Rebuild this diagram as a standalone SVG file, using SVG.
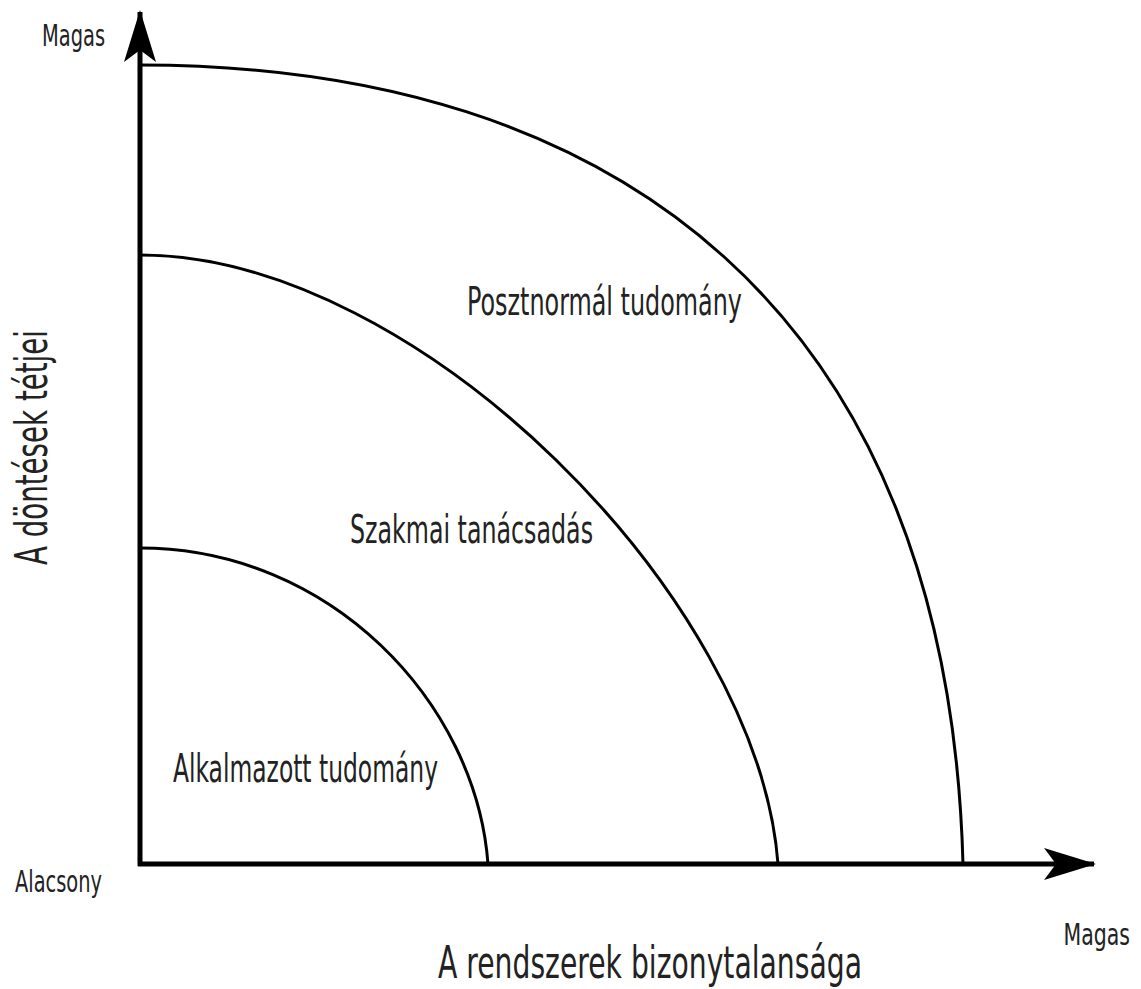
<svg xmlns="http://www.w3.org/2000/svg" width="1141" height="989" viewBox="0 0 1141 989">
<style>
.t{font-family:"DejaVu Sans Condensed","DejaVu Sans",sans-serif;font-stretch:condensed;fill:#222}
.s{font-size:30px}
.m{font-size:39px}
.l{font-size:45px}
.axis{stroke:#000;stroke-width:5;fill:none}
.curve{stroke:#000;stroke-width:3;fill:none}
</style>
<defs>
<marker id="ah" viewBox="0 0 52 32" refX="50" refY="16" markerWidth="52" markerHeight="32" markerUnits="userSpaceOnUse" orient="auto">
<path d="M0,0 L52,16 L0,32 L12,16 Z" fill="#000"/>
</marker>
</defs>
<rect width="1141" height="989" fill="#fff"/>
<g id="connectors">
<path class="axis" d="M140,866 L140,12" marker-end="url(#ah)"/>
<path class="axis" d="M138,864 L1094,864" marker-end="url(#ah)"/>
</g>
<g id="curve-outer"><path class="curve" d="M140,65 C615,65 948,310 963,864"/></g>
<g id="curve-middle"><path class="curve" d="M140,255 C418,255 758,598 778,864"/></g>
<g id="curve-inner"><path class="curve" d="M140,548 C330,548 476,702 488,864"/></g>
<g id="label-posztnormal"><text class="t m" x="467" y="315" textLength="275" lengthAdjust="spacingAndGlyphs">Posztnormál tudomány</text></g>
<g id="label-szakmai"><text class="t m" x="350" y="543" textLength="243" lengthAdjust="spacingAndGlyphs">Szakmai tanácsadás</text></g>
<g id="label-alkalmazott"><text class="t m" x="173" y="782" textLength="265" lengthAdjust="spacingAndGlyphs">Alkalmazott tudomány</text></g>
<g id="label-y-high"><text class="t s" x="42" y="46" textLength="63" lengthAdjust="spacingAndGlyphs">Magas</text></g>
<g id="label-low"><text class="t s" x="15" y="892" textLength="87" lengthAdjust="spacingAndGlyphs">Alacsony</text></g>
<g id="label-x-high"><text class="t s" transform="translate(1130,945) scale(0.76,1)" x="0" y="0" text-anchor="end">Magas</text></g>
<g id="label-x-axis"><text class="t l" x="438" y="978" textLength="424" lengthAdjust="spacingAndGlyphs">A rendszerek bizonytalansága</text></g>
<g id="label-y-axis"><text class="t l" transform="translate(47,565) rotate(-90)" x="0" y="0" textLength="235" lengthAdjust="spacingAndGlyphs">A döntések tétjei</text></g>
</svg>
